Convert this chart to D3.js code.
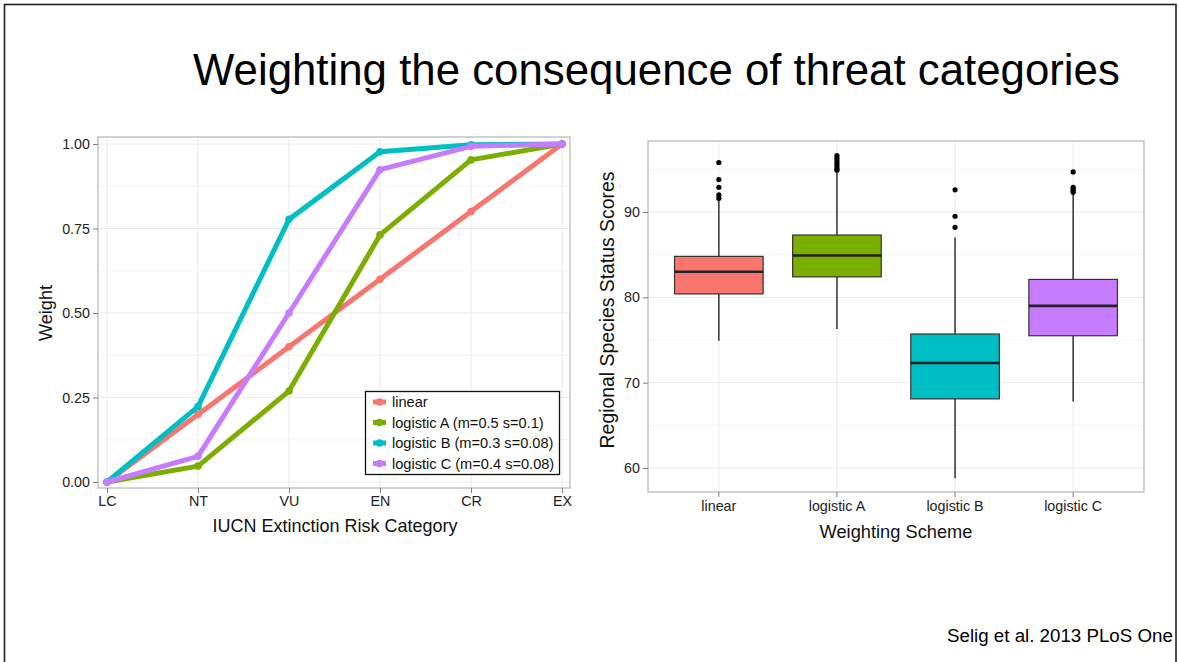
<!DOCTYPE html>
<html><head><meta charset="utf-8">
<script src="https://cdn.jsdelivr.net/npm/d3@7"></script>
<style>body{margin:0;background:#fff}svg{display:block;font-family:"Liberation Sans",Arial,sans-serif}</style>
</head><body>
<svg id="c" width="1179" height="662"></svg>
<script>
// ---- data ----
const categories = ["LC","NT","VU","EN","CR","EX"];
const seriesNames = ["linear","logistic A (m=0.5 s=0.1)","logistic B (m=0.3 s=0.08)","logistic C (m=0.4 s=0.08)"];
const linearW    = [0, 0.20, 0.40, 0.60, 0.80, 1.00];
const logisticAW = [0, 0.047, 0.269, 0.731, 0.953, 1.00];
const logisticBW = [0, 0.223, 0.777, 0.977, 0.998, 1.00];
const logisticCW = [0, 0.076, 0.500, 0.924, 0.993, 1.00];
const weightTicks = [0, 0.25, 0.50, 0.75, 1.00];
const schemes = ["linear","logistic A","logistic B","logistic C"];
// [whisker low, Q1, median, Q3, whisker high]
const boxLinear = [74.9, 80.4, 83.0, 84.8, 91.4];
const boxLogA   = [76.3, 82.4, 84.9, 87.3, 94.6];
const boxLogB   = [58.8, 68.1, 72.3, 75.7, 87.0];
const boxLogC   = [67.8, 75.5, 79.0, 82.1, 92.1];
const outLinear = [95.8, 93.8, 92.9, 92.0, 91.6];
const outLogA   = [96.6, 96.3, 96.0, 95.7, 95.4, 95.1, 94.9];
const outLogB   = [92.6, 89.5, 88.2];
const outLogC   = [94.7, 92.9, 92.7, 92.5, 92.3];
const scoreTicks = [60, 70, 80, 90];
const colors = ["#F8766D","#7CAE00","#00BFC4","#C77CFF"];

const svg = d3.select("#c");
const font = '"Liberation Sans",Arial,sans-serif';
function fit(sel, base, target){ const w = sel.node().getComputedTextLength(); sel.attr("font-size", base*target/w); return sel; }

// slide border
svg.append("rect").attr("x",4.5).attr("y",4.5).attr("width",1171.5).attr("height",700)
  .attr("fill","none").attr("stroke","#222").attr("stroke-width",1.6);

// title
const title = svg.append("text").attr("x",193).attr("y",85).attr("font-size",40).attr("fill","#000")
  .text("Weighting the consequence of threat categories");
fit(title, 40, 927);

// ---- left chart ----
const L = {x0:98, x1:570, y0:137, y1:488};
const xL = d3.scalePoint().domain(categories).range([107,562]);
const yL = d3.scaleLinear().domain([0,1]).range([482,144]);
const gL = svg.append("g");
gL.append("rect").attr("x",L.x0).attr("y",L.y0).attr("width",L.x1-L.x0).attr("height",L.y1-L.y0).attr("fill","#fff");
const minorL = d3.range(0.125,1,0.25);
gL.selectAll(".mn").data(minorL).join("line").attr("x1",L.x0).attr("x2",L.x1)
  .attr("y1",d=>yL(d)).attr("y2",d=>yL(d)).attr("stroke","#F4F4F4").attr("stroke-width",1);
gL.selectAll(".mj").data(weightTicks).join("line").attr("x1",L.x0).attr("x2",L.x1)
  .attr("y1",d=>yL(d)).attr("y2",d=>yL(d)).attr("stroke","#EAEAEA").attr("stroke-width",1);
gL.selectAll(".vx").data(categories).join("line").attr("y1",L.y0).attr("y2",L.y1)
  .attr("x1",d=>xL(d)).attr("x2",d=>xL(d)).attr("stroke","#EAEAEA").attr("stroke-width",1);
const seriesL = [linearW, logisticAW, logisticBW, logisticCW];
const line = d3.line().x((d,i)=>xL(categories[i])).y(d=>yL(d));
seriesL.forEach((s,k)=>{
  gL.append("path").attr("d",line(s)).attr("fill","none").attr("stroke",colors[k])
    .attr("stroke-width",5).attr("stroke-linejoin","round").attr("stroke-linecap","round");
  gL.selectAll(null).data(s).join("circle").attr("cx",(d,i)=>xL(categories[i])).attr("cy",d=>yL(d))
    .attr("r",3.8).attr("fill",colors[k]);
});
gL.append("rect").attr("x",L.x0).attr("y",L.y0).attr("width",L.x1-L.x0).attr("height",L.y1-L.y0)
  .attr("fill","none").attr("stroke","#B5B5B5").attr("stroke-width",1.2);
const axYL = d3.axisLeft(yL).tickValues(weightTicks).tickFormat(d3.format(".2f")).tickSize(5).tickPadding(3);
const gy = svg.append("g").attr("transform",`translate(${L.x0},0)`).call(axYL);
const axXL = d3.axisBottom(xL).tickSize(5).tickPadding(3);
const gx = svg.append("g").attr("transform",`translate(0,${L.y1})`).call(axXL);
[gy,gx].forEach(g=>{g.select(".domain").remove();
  g.selectAll("line").attr("stroke","#7F7F7F");
  g.selectAll("text").attr("font-size",14.3).attr("fill","#222").attr("font-family",font);});
fit(svg.append("text").attr("x",335).attr("y",532).attr("text-anchor","middle").attr("font-size",16.5)
  .attr("fill","#111").text("IUCN Extinction Risk Category"), 16.5, 245);
fit(svg.append("text").attr("transform","translate(52,313) rotate(-90)").attr("text-anchor","middle")
  .attr("font-size",16.5).attr("fill","#111").text("Weight"), 16.5, 56);
// legend
const lg = svg.append("g");
lg.append("rect").attr("x",365.5).attr("y",391.5).attr("width",194).attr("height",83)
  .attr("fill","#fff").attr("stroke","#111").attr("stroke-width",1.3);
seriesNames.forEach((n,k)=>{
  const cy = 402 + k*20.5;
  lg.append("line").attr("x1",373).attr("x2",386).attr("y1",cy).attr("y2",cy)
    .attr("stroke",colors[k]).attr("stroke-width",5);
  lg.append("circle").attr("cx",379.5).attr("cy",cy).attr("r",3.8).attr("fill",colors[k]);
  lg.append("text").attr("x",392).attr("y",cy+5).attr("font-size",14.6).attr("fill","#111").text(n);
});

// ---- right chart ----
const R = {x0:648, x1:1144, y0:141, y1:492};
const xR = d3.scaleBand().domain(schemes).range([R.x0+0.6*118 - 59, R.x1-0.6*118+59]).padding(0);
const cx = d => xR(d) + xR.bandwidth()/2;
const yR = d3.scaleLinear().domain([60,90]).range([468,212]);
const gR = svg.append("g");
gR.append("rect").attr("x",R.x0).attr("y",R.y0).attr("width",R.x1-R.x0).attr("height",R.y1-R.y0).attr("fill","#fff");
const minorR = [65,75,85,95];
gR.selectAll(".mn").data(minorR).join("line").attr("x1",R.x0).attr("x2",R.x1)
  .attr("y1",d=>yR(d)).attr("y2",d=>yR(d)).attr("stroke","#F4F4F4");
gR.selectAll(".mj").data(scoreTicks).join("line").attr("x1",R.x0).attr("x2",R.x1)
  .attr("y1",d=>yR(d)).attr("y2",d=>yR(d)).attr("stroke","#EAEAEA");
gR.selectAll(".vx").data(schemes).join("line").attr("y1",R.y0).attr("y2",R.y1)
  .attr("x1",d=>cx(d)).attr("x2",d=>cx(d)).attr("stroke","#EAEAEA");
const boxes = [boxLinear, boxLogA, boxLogB, boxLogC];
const outs = [outLinear, outLogA, outLogB, outLogC];
const bw = xR.bandwidth()*0.75;
boxes.forEach((b,k)=>{
  const c = cx(schemes[k]);
  gR.append("line").attr("x1",c).attr("x2",c).attr("y1",yR(b[0])).attr("y2",yR(b[1])).attr("stroke","#333").attr("stroke-width",1.5);
  gR.append("line").attr("x1",c).attr("x2",c).attr("y1",yR(b[3])).attr("y2",yR(b[4])).attr("stroke","#333").attr("stroke-width",1.5);
  gR.append("rect").attr("x",c-bw/2).attr("y",yR(b[3])).attr("width",bw).attr("height",yR(b[1])-yR(b[3]))
    .attr("fill",colors[k]).attr("stroke","#333").attr("stroke-width",1.2);
  gR.append("line").attr("x1",c-bw/2).attr("x2",c+bw/2).attr("y1",yR(b[2])).attr("y2",yR(b[2]))
    .attr("stroke","#222").attr("stroke-width",2.6);
  gR.selectAll(null).data(outs[k]).join("circle").attr("cx",c).attr("cy",d=>yR(d)).attr("r",2.6).attr("fill","#000");
});
gR.append("rect").attr("x",R.x0).attr("y",R.y0).attr("width",R.x1-R.x0).attr("height",R.y1-R.y0)
  .attr("fill","none").attr("stroke","#B5B5B5").attr("stroke-width",1.2);
const gyR = svg.append("g").attr("transform",`translate(${R.x0},0)`).call(d3.axisLeft(yR).tickValues(scoreTicks).tickSize(5).tickPadding(3));
const gxR = svg.append("g").attr("transform",`translate(0,${R.y1})`).call(d3.axisBottom(xR).tickSize(5).tickPadding(4));
[gyR,gxR].forEach(g=>{g.select(".domain").remove();
  g.selectAll("line").attr("stroke","#7F7F7F");
  g.selectAll("text").attr("font-size",14.3).attr("fill","#222").attr("font-family",font);});
fit(svg.append("text").attr("x",896).attr("y",538).attr("text-anchor","middle").attr("font-size",16.5)
  .attr("fill","#111").text("Weighting Scheme"), 16.5, 153);
fit(svg.append("text").attr("transform","translate(614,310) rotate(-90)").attr("text-anchor","middle")
  .attr("font-size",16.5).attr("fill","#111").text("Regional Species Status Scores"), 16.5, 277);

// footer (kept whole, ending just inside the slide border)
fit(svg.append("text").attr("x",947).attr("y",642).attr("font-size",19)
  .attr("fill","#000").text("Selig et al. 2013 PLoS One"), 19, 226);
</script>
</body></html>
